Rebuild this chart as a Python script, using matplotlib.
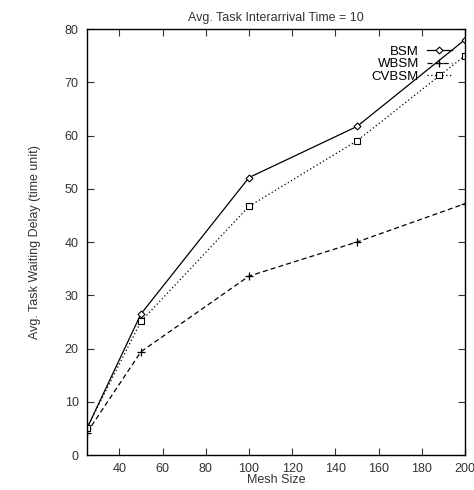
import matplotlib
matplotlib.use('Agg')
import matplotlib.pyplot as plt

plt.rcParams['font.family'] = ['Liberation Sans', 'DejaVu Sans']

mesh = [25, 50, 100, 150, 200]
bsm = [5.0, 26.5, 52.1, 61.7, 78.0]
wbsm = [4.2, 19.4, 33.6, 40.0, 47.2]
cvbsm = [5.1, 25.1, 46.7, 59.0, 75.0]

fig = plt.figure(figsize=(4.74, 4.9), dpi=100)
ax = fig.add_axes([0.1835, 0.0714, 0.7975, 0.8694])

ax.plot(mesh, bsm, color='black', lw=0.9, ls='-', marker='D', ms=3.5,
        mfc='white', mec='black', mew=0.8, label='BSM')
ax.plot(mesh, wbsm, color='black', lw=0.9, ls=(0, (4, 2.5)), marker='+', ms=6,
        mew=0.9, label='WBSM')
ax.plot(mesh, cvbsm, color='black', lw=0.9, ls=(0, (1, 2)), marker='s', ms=5,
        mfc='white', mec='black', mew=0.8, label='CVBSM')

ax.set_xlim(25, 200)
ax.set_ylim(0, 80)
ax.set_xticks(range(40, 201, 20))
ax.set_yticks(range(0, 81, 10))
ax.tick_params(direction='in', top=True, right=True, labelsize=9, length=5,
               pad=6, colors='#333333', labelcolor='#333333')
for s in ax.spines.values():
    s.set_linewidth(1.0)

ax.set_title('Avg. Task Interarrival Time = 10', fontsize=9, color='#333333', pad=6)
ax.set_xlabel('Mesh Size', fontsize=9, color='#333333', labelpad=-1)
ax.set_ylabel('Avg. Task Waiting Delay (time unit)', fontsize=9, color='#333333', labelpad=17)

ax.legend(loc='upper right', frameon=False, markerfirst=False, fontsize=9.5,
          handlelength=1.9, handletextpad=0.6, labelspacing=0.02,
          borderpad=0.4, borderaxespad=0.6, bbox_to_anchor=(1.0, 0.992))

fig.savefig('out.png', dpi=100)
